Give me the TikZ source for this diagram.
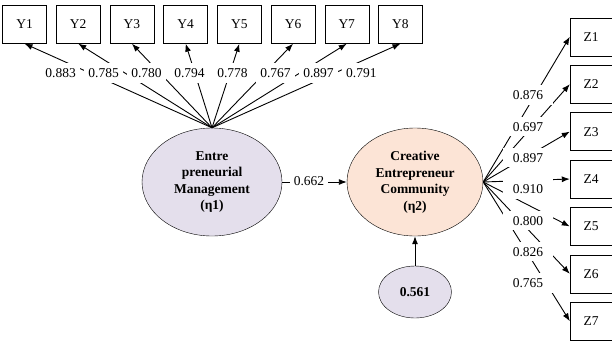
\documentclass[tikz,border=0pt]{standalone}
\usepackage{fontspec}
\setmainfont{Liberation Serif}
\usetikzlibrary{matrix,arrows.meta,shapes.geometric}
\definecolor{lavender}{HTML}{E4DFEC}
\definecolor{peach}{HTML}{FCE4D6}

\begin{document}
\begin{tikzpicture}[x=1pt,y=-1pt,font=\fontsize{13.5}{16}\selectfont,
	ind/.style={draw,minimum width=44pt,minimum height=38pt,inner sep=0pt},
	lat/.style={draw,ellipse,inner sep=0pt,align=center,font=\fontsize{13.5}{16.5}\selectfont\bfseries},
	coef/.style={fill=white,inner xsep=4pt,inner ysep=5pt,text height=9.5pt,text depth=0pt},
	load/.style={-{Latex[length=8pt,width=6pt]},line width=0.9pt}]
			\useasboundingbox (0,0) rectangle (612,343);
			\matrix (y) at (212.5,24.5) [matrix of nodes, column sep=9.3pt, nodes={ind}]
			{
				Y1 & Y2 & Y3 & Y4 & Y5 & Y6 & Y7 & Y8 \\
			};
			\matrix (z) at (591,179) [matrix of nodes, row sep=9pt, nodes={ind,minimum width=42pt}]
			{
				Z1 \\ Z2 \\ Z3 \\ Z4 \\ Z5 \\ Z6 \\ Z7 \\
			};
			\node[lat,fill=lavender,minimum width=140pt,minimum height=108pt] (eta1) at (212,182)
				{Entre\\preneurial\\Management\\(η1)};
			\node[lat,fill=peach,minimum width=136pt,minimum height=108pt] (eta2) at (415,182)
				{Creative\\Entrepreneur\\Community\\(η2)};
			\node[lat,fill=lavender,minimum width=73pt,minimum height=52pt] (zeta) at (415,292) {0.561};
			\path[load]
			(eta1.north) edge (y-1-1.south) edge (y-1-2.south) edge (y-1-3.south) edge (y-1-4.south)
			             edge (y-1-5.south) edge (y-1-6.south) edge (y-1-7.south) edge (y-1-8.south)
			(eta2.east) edge (z-1-1.west) edge (z-2-1.west) edge (z-3-1.west) edge (z-4-1.west)
			            edge (z-5-1.west) edge (z-6-1.west) edge (z-7-1.west)
			(eta1) edge (eta2)
			(zeta) edge (eta2);
			% loadings
			\matrix (ly) at (211,73) [matrix of nodes, column sep=4.6pt, nodes={coef}]
			{
				0.883 & 0.785 & 0.780 & 0.794 & 0.778 & 0.767 & 0.897 & 0.791 \\
			};
			\matrix (lz) at (528,189) [matrix of nodes, row sep=11.8pt, nodes={coef,inner xsep=10pt}]
			{
				0.876 \\ 0.697 \\ 0.897 \\ 0.910 \\ 0.800 \\ 0.826 \\ 0.765 \\
			};
			\node[coef,inner ysep=2pt] (beta) at (309,181) {0.662};
		\end{tikzpicture}
\end{document}
